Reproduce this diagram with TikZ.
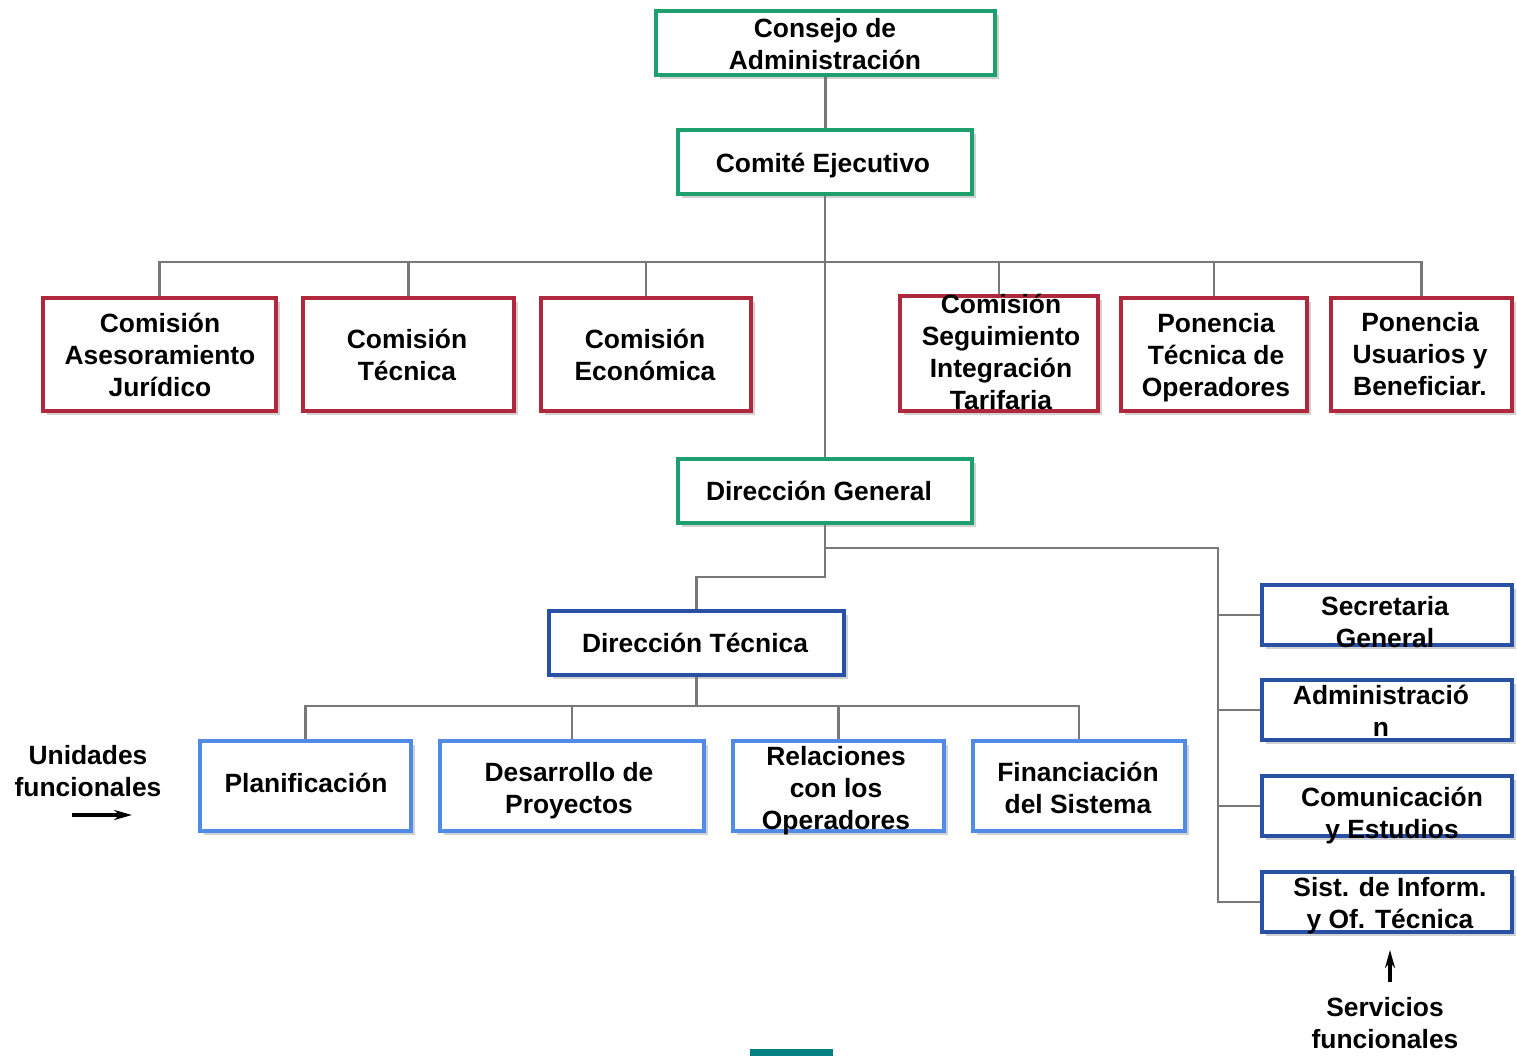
\documentclass[tikz,border=0pt]{standalone}
\usepackage{fontspec}
\setmainfont{Liberation Sans}
\usetikzlibrary{arrows.meta,shadows,fit}
\definecolor{gbox}{RGB}{30,160,110}
\definecolor{rbox}{RGB}{175,40,60}
\definecolor{dbox}{RGB}{40,80,165}
\definecolor{lbox}{RGB}{80,140,230}
\definecolor{conn}{RGB}{120,120,120}
\definecolor{tealbar}{RGB}{0,128,128}
\newcommand\lnstrut{\rule[-3.3pt]{0pt}{15.8pt}}
\begin{document}
\begin{tikzpicture}[x=0.5pt,y=-0.5pt,
  box/.style={draw, line width=2.2pt, fill=white, inner sep=0pt,
    drop shadow={shadow xshift=2pt,shadow yshift=-2pt,opacity=0.3,fill=black!60}},
  gbx/.style={box, draw=gbox},
  rbx/.style={box, draw=rbox},
  dbx/.style={box, draw=dbox},
  lbx/.style={box, draw=lbox},
  txt/.style={align=center, inner sep=0pt, text=black,
    font=\fontsize{13.2pt}{16pt}\selectfont\bfseries,
    execute at begin node={\lnstrut}, execute at end node={\lnstrut}},
  conline/.style={draw=conn, line width=1.1pt},
  arr/.style={line width=1.6pt, -{Stealth[length=9pt,width=5pt]}}]
\useasboundingbox (0,0) rectangle (1517,1056);

% boxes
\node[gbx, fit={(656,11) (995,75)}] (cons) {};
\node[gbx, fit={(678,130) (972,194)}] (com) {};
\node[rbx, fit={(43,298) (276,411)}] (ase) {};
\node[rbx, fit={(303,298) (514,411)}] (ctec) {};
\node[rbx, fit={(541,298) (751,411)}] (ceco) {};
\node[rbx, fit={(900,296) (1098,411)}] (cseg) {};
\node[rbx, fit={(1121,298) (1307,411)}] (pto) {};
\node[rbx, fit={(1331,298) (1512,411)}] (pub) {};
\node[gbx, fit={(678,459) (972,523)}] (dg) {};
\node[dbx, fit={(549,611) (844,675)}] (dt) {};
\node[lbx, fit={(200,741) (411,831)}] (plan) {};
\node[lbx, fit={(440,741) (704,831)}] (des) {};
\node[lbx, fit={(733,741) (944,831)}] (rel) {};
\node[lbx, fit={(973,741) (1185,831)}] (fin) {};
\node[dbx, fit={(1262,585) (1512,645)}] (sec) {};
\node[dbx, fit={(1262,680) (1512,740)}] (adm) {};
\node[dbx, fit={(1262,776) (1512,836)}] (comu) {};
\node[dbx, fit={(1262,872) (1512,932)}] (sist) {};

% texts
\node[txt] (tcons) at (825,47) {Consejo de\\Administración};
\node[txt] (tcom) at (823,163) {Comité Ejecutivo};
\node[txt] (tase) at (160,358) {Comisión\\Asesoramiento\\Jurídico};
\node[txt] (tctec) at (407,358) {Comisión\\Técnica};
\node[txt] (tceco) at (645,358) {Comisión\\Económica};
\node[txt] (tcseg) at (1001,355) {Comisión\\Seguimiento\\Integración\\Tarifaria};
\node[txt] (tpto) at (1216,358) {Ponencia\\Técnica de\\Operadores};
\node[txt] (tpub) at (1420,357) {Ponencia\\Usuarios y\\Beneficiar.};
\node[txt] (tdg) at (819,491) {Dirección General};
\node[txt] (tdt) at (695,643) {Dirección Técnica};
\node[txt] (tplan) at (306,783) {Planificación};
\node[txt] (tdes) at (569,791) {Desarrollo de\\Proyectos};
\node[txt] (trel) at (836,791) {Relaciones\\con los\\Operadores};
\node[txt] (tfin) at (1078,791) {Financiación\\del Sistema};
\node[txt] (tsec) at (1385,625) {Secretaria\\General};
\node[txt] (tadm) at (1381,714) {Administració\\n};
\node[txt] (tcomu) at (1392,816) {Comunicación\\y Estudios};
\node[txt] (tsist) at (1390,906) {Sist. de Inform.\\y Of. Técnica};
\node[txt] (tunid) at (88,774) {Unidades\\funcionales};
\node[txt, anchor=south, execute at end node={}] (tserv) at (1385,1055) {Servicios\\funcionales};

% connectors
\coordinate (by) at (0,262);
\coordinate (bus) at (com.south |- by);
\path (dg.south) ++(0,52) coordinate (j1);
\path (dg.south) ++(0,23) coordinate (j2);
\coordinate (rx) at (1218,0);
\coordinate (rc) at (rx |- j2);
\path (dt.south) ++(0,29) coordinate (j3);
\draw[conline] (cons.south) -- (cons.south |- com.north);
\draw[conline] (com.south) -- (dg.north);
\foreach \b in {ase,ctec,ceco,cseg,pto,pub} \draw[conline] (\b.north) |- (bus);
\draw[conline] (dg.south) -- (j1) -| (dt.north);
\draw[conline] (j2) -- (rc) |- (sist.west);
\foreach \b in {sec,adm,comu} \draw[conline] (rc) |- (\b.west);
\draw[conline] (dt.south) -- (j3);
\foreach \b in {plan,des,rel,fin} \draw[conline] (\b.north) |- (j3);

% legend arrows
\coordinate (ua1) at (72,815);
\coordinate (ua2) at (132,815);
\draw[arr] (ua1) -- (ua2);
\coordinate (sa1) at (1390,982);
\coordinate (sa2) at (1390,950);
\draw[arr] (sa1) -- (sa2);

% bottom bar
\fill[tealbar] (750,1049) rectangle (833,1056);
\end{tikzpicture}
\end{document}
